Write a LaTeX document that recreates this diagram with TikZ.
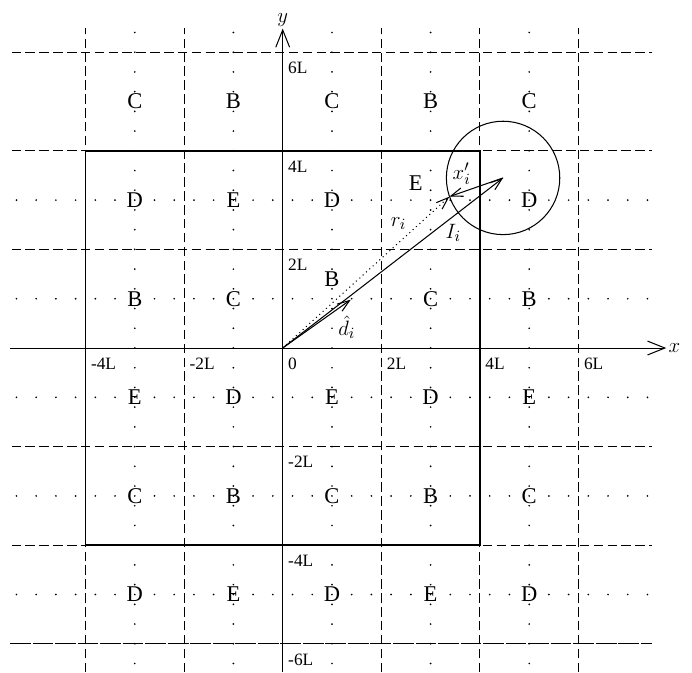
\documentclass[tikz,border=0pt]{standalone}
\usepackage{fontspec}
\setmainfont{Liberation Serif}
\usetikzlibrary{arrows.meta}
\begin{document}
\begin{tikzpicture}[x=1cm,y=1cm]
        % Styles
        \tikzstyle{cell line}=[line width=0.5pt,dash pattern=on 5.5pt off 2.5pt]
        \tikzstyle{last line}=[line width=0.5pt,dash pattern=on 12pt off 1pt]
        \tikzstyle{dot line}=[line width=1.1pt,line cap=round,dash pattern=on 0pt off 11.38pt]
        \tikzstyle{box line}=[line width=1.1pt]
        \tikzstyle{axis arrow}=[line width=0.6pt,-{Straight Barb[length=10pt,width=8pt]}]
        \tikzstyle{vector}=[line width=0.6pt,-{Straight Barb[length=7pt,width=5pt]}]
        \tikzstyle{cell label}=[font=\fontsize{13}{15}\selectfont,inner sep=1pt]
        \tikzstyle{tick label}=[font=\fontsize{10}{12}\selectfont,anchor=north west,inner xsep=3pt,inner ysep=5.5pt]
        \tikzstyle{vector label}=[font=\fontsize{12.5}{14}\selectfont,inner sep=1pt]
        \useasboundingbox (-5.734,-6.572) rectangle (8.302,7.059);
        %The graphic
        %cells
        \foreach \y in {-4,-2,2,4,6}
            \draw[cell line] (-5.5,\y) -- (7.5,\y);
        \draw[last line] (-5.53,-6) -- (7.5,-6);
        \foreach \x in {-4,-2,2,4,6}
            \draw[cell line] (\x,-6.572) -- (\x,6.5);
        %dots
        \foreach \t in {-3,-1,1,3,5}
            \draw[dot line] (\t,6.4) -- (\t,-6.572);
        \foreach \t in {3,1,-1,-3,-5}
            \draw[dot line] (-5.4,\t) -- (7.4,\t);
        \draw[box line] (-4,-4) rectangle (4,4);
        %axes
        \draw[axis arrow] (-5.53,0) -- (7.78,0) node[right,inner sep=2pt,vector label] (x label) {$x$};
        \draw[axis arrow] (0,-6.572) -- (0,6.48) node[above,inner sep=2pt,vector label] (y label) {$y$};
        \foreach \v/\vtext in {-4/-4L,-2/-2L,0/0,2/2L,4/4L,6/6L}
            \node[tick label] (xtick\vtext) at (\v,0) {\vtext};
        \foreach \v/\vtext in {-6/-6L,-4/-4L,-2/-2L,2/2L,4/4L,6/6L}
            \node[tick label] (ytick\vtext) at (0,\v) {\vtext};
        %images
        \foreach \x/\y/\t [count=\i] in {-3/5/C,-1/5/B,1/5/C,3/5/B,5/5/C,
                -3/3/D,-1/3/E,1/3/D,2.7/3.35/E,5/3/D,
                -3/1/B,-1/1/C,1/1.4/B,3/1/C,5/1/B,
                -3/-1/E,-1/-1/D,1/-1/E,3/-1/D,5/-1/E,
                -3/-3/C,-1/-3/B,1/-3/C,3/-3/B,5/-3/C,
                -3/-5/D,-1/-5/E,1/-5/D,3/-5/E,5/-5/D}
            \node[cell label] (cell\i) at (\x,\y) {\t};
        %vectors
        \coordinate (O) at (0,0);
        \coordinate (P) at (4.47,3.45);
        \coordinate (Q) at (3.38,3.07);
        \coordinate (D) at (1.38,0.98);
        \draw[line width=0.6pt] (P) circle (1.15);
        \draw[vector] (O) -- (P);
        \draw[vector,dotted] (O) -- (Q);
        \draw[vector] (P) -- (Q);
        \draw[vector] (O) -- (D);
        \node[vector label] (I label) at (3.46,2.33) {$I_i$};
        \node[vector label] (r label) at (2.35,2.53) {$r_i$};
        \node[vector label] (x label') at (3.63,3.53) {$x'_i$};
        \node[vector label] (d label) at (1.30,0.42) {$\hat{d}_i$};
    \end{tikzpicture}
\end{document}
